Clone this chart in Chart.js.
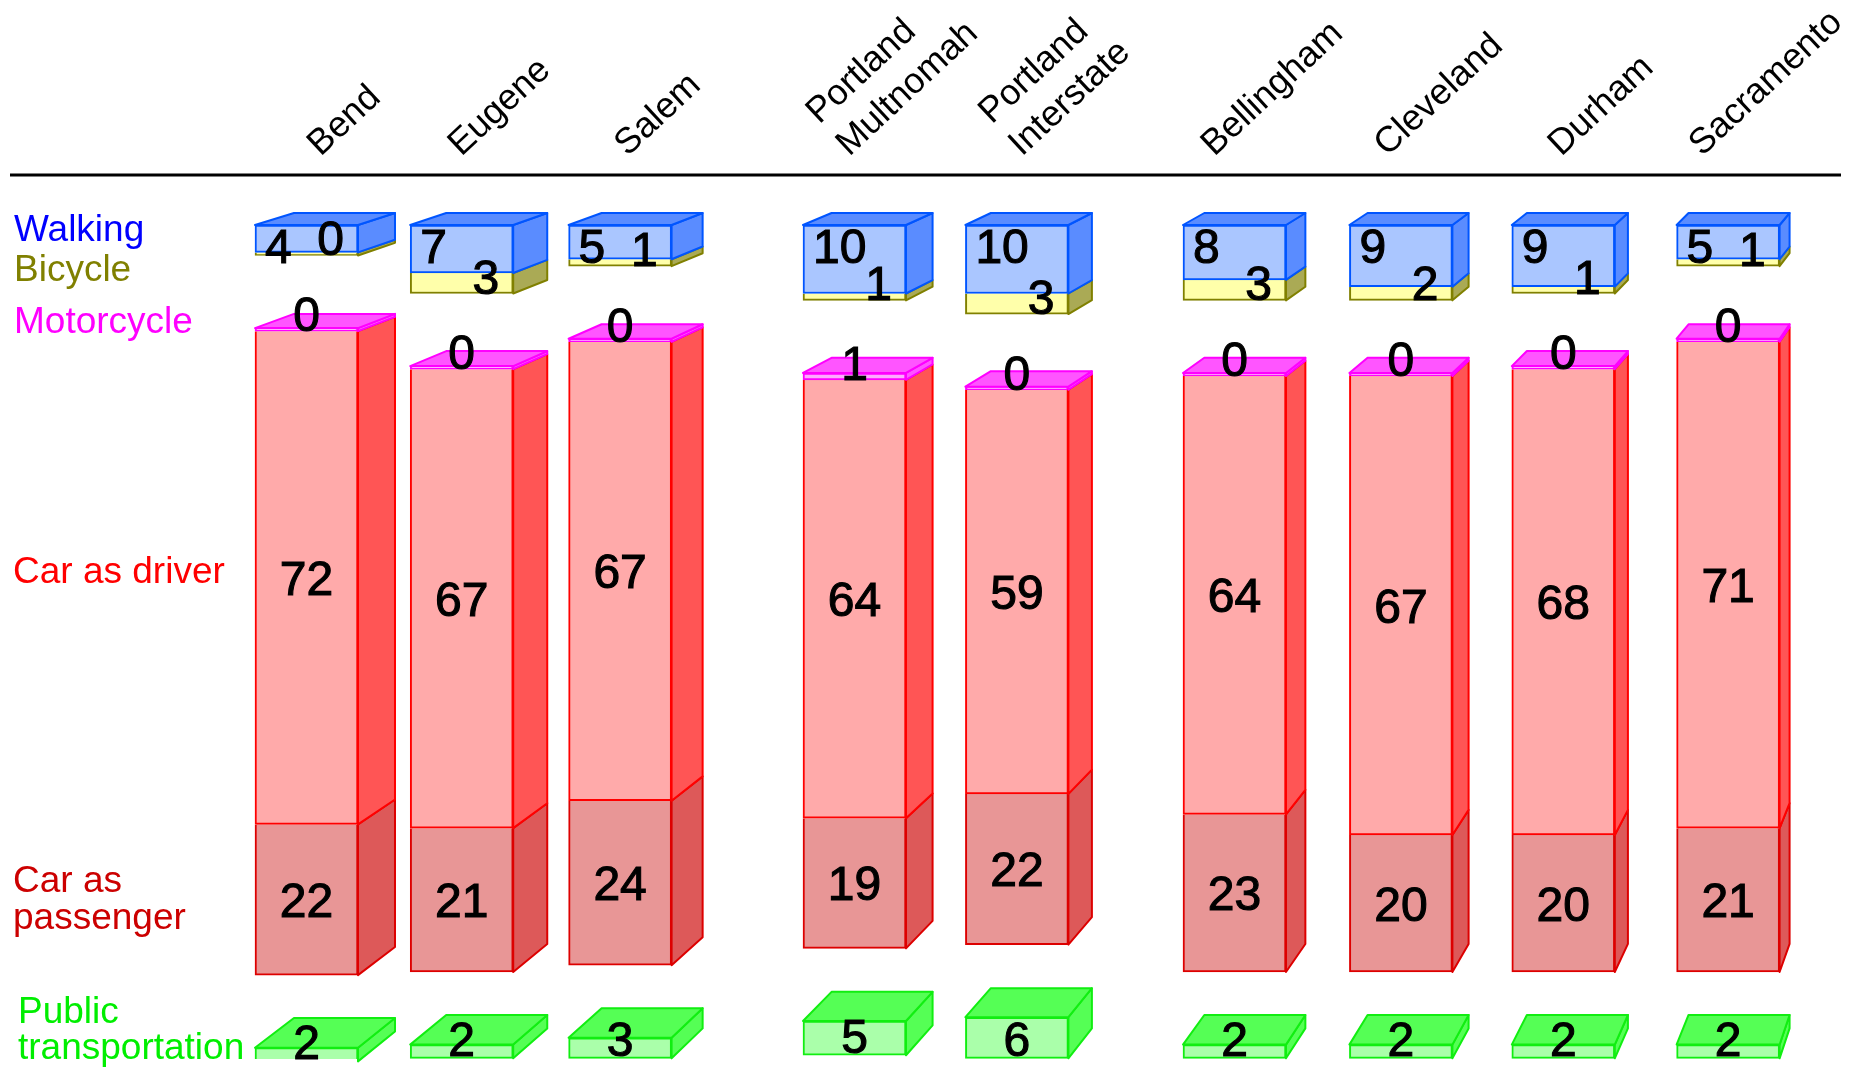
<!DOCTYPE html>
<html>
<head>
<meta charset="utf-8">
<script src="https://cdn.jsdelivr.net/npm/chart.js@4.4.1/dist/chart.umd.min.js"></script>
<style>
  html, body { margin: 0; padding: 0; background: #fff; }
  canvas { display: block; }
</style>
</head>
<body>
<canvas id="chart" width="1865" height="1067"></canvas>
<script>
const cities = [["Bend"], ["Eugene"], ["Salem"], ["Portland", "Multnomah"], ["Portland", "Interstate"], ["Bellingham"], ["Cleveland"], ["Durham"], ["Sacramento"]];

// share of trips in percent; a printed "0" still shows as a thin slab, read as ~0.45
const walking = [4, 7, 5, 10, 10, 8, 9, 9, 5];
const bicycle = [0.45, 3, 1, 1, 3, 3, 2, 1, 1];
const motorcycle = [0.45, 0.45, 0.45, 1, 0.45, 0.45, 0.45, 0.45, 0.45];
const carDriver = [72, 67, 67, 64, 59, 64, 67, 68, 71];
const carPassenger = [22, 21, 24, 19, 22, 23, 20, 20, 21];
const publicTransport = [2, 2, 3, 5, 6, 2, 2, 2, 2];

// layout: column positions (in bar steps) and the gap between the three stacks
const slots = [0, 0.97, 1.96, 3.425, 4.44, 5.8, 6.84, 7.855, 8.885];
const GAP = 10.6;

const modes = [
  { name: ["Walking"], values: walking, group: 0, cap: true, front: "#aac6ff", side: "#5a8cff", border: "#0055ff", text: "#0000ff" },
  { name: ["Bicycle"], values: bicycle, group: 0, front: "#ffffaa", side: "#aaaa55", border: "#808000", text: "#808000" },
  { name: ["Motorcycle"], values: motorcycle, group: 1, cap: true, front: "#ffaaff", side: "#ff55ff", border: "#ff00ff", text: "#ff00ff" },
  { name: ["Car as driver"], values: carDriver, group: 1, front: "#ffaaaa", side: "#ff5555", border: "#ff0000", text: "#ff0000" },
  { name: ["Car as", "passenger"], values: carPassenger, group: 1, front: "#e89696", side: "#dd5959", border: "#dd0000", text: "#cc0000" },
  { name: ["Public", "transportation"], values: publicTransport, group: 2, cap: true, front: "#aaffaa", side: "#55ff55", border: "#11ee11", text: "#00ee00" },
];

// stack each column from the top, leaving a gap between groups
const spans = modes.map(() => []);
cities.forEach((c, i) => {
  let y = 0;
  let group = 0;
  modes.forEach((m, k) => {
    if (m.group !== group) { y += GAP; group = m.group; }
    spans[k].push([y, y + m.values[i]]);
    y += m.values[i];
  });
});

// oblique depth: every corner is pulled toward a far point up to the right
const VP = { x: 2305, y: -333 };
const KX = 0.019, KY = 0.0215;
const back = (x, y) => [x + KX * (VP.x - x), y + KY * (VP.y - y)];

const rectOf = (bar) => ({
  l: bar.x - bar.width / 2,
  r: bar.x + bar.width / 2,
  t: Math.min(bar.y, bar.base),
  b: Math.max(bar.y, bar.base),
});

const face = (ctx, pts, fill, stroke) => {
  ctx.beginPath();
  ctx.moveTo(pts[0][0], pts[0][1]);
  pts.slice(1).forEach((p) => ctx.lineTo(p[0], p[1]));
  ctx.closePath();
  ctx.fillStyle = fill;
  ctx.fill();
  ctx.strokeStyle = stroke;
  ctx.stroke();
};

const boxes = {
  id: "boxes",
  afterDatasetsDraw(chart) {
    const ctx = chart.ctx;
    ctx.save();
    ctx.lineWidth = 2;
    ctx.lineJoin = "round";
    cities.forEach((c, i) => {
      // bottom segment first so the seam above it wins
      for (let k = modes.length - 1; k >= 0; k--) {
        const m = modes[k];
        const { l, r, t, b } = rectOf(chart.getDatasetMeta(k).data[i]);
        face(ctx, [[r, t], back(r, t), back(r, b), [r, b]], m.side, m.border);
        if (m.cap) {
          face(ctx, [[l, t], back(l, t), back(r, t), [r, t]], m.side, m.border);
        }
      }
    });
    ctx.restore();
  },
};

const FONT = "'Liberation Sans', Arial, sans-serif";

const number = (ctx, txt, x, y) => {
  ctx.fillText(txt, x, y);
  ctx.strokeText(txt, x, y);
};

const labels = {
  id: "labels",
  afterDraw(chart) {
    const ctx = chart.ctx;
    ctx.save();
    ctx.fillStyle = "#000";
    ctx.strokeStyle = "#000";
    ctx.lineWidth = 1.1;
    ctx.font = "48px " + FONT;
    ctx.textBaseline = "alphabetic";
    modes.forEach((m, k) => {
      chart.getDatasetMeta(k).data.forEach((bar, i) => {
        const { l, r, t, b } = rectOf(bar);
        const txt = String(Math.round(m.values[i]));
        const cx = (l + r) / 2;
        if (k === 0) {
          ctx.textAlign = "left";
          number(ctx, txt, l + 10, t + 38);
        } else if (k === 1) {
          ctx.textAlign = "right";
          number(ctx, txt, r - 14, b);
        } else if (k === 2) {
          ctx.textAlign = "center";
          number(ctx, txt, cx, b);
        } else if (k === 5) {
          ctx.textAlign = "center";
          number(ctx, txt, cx, b - 2);
        } else {
          ctx.textAlign = "center";
          number(ctx, txt, cx, (t + b) / 2 + 17);
        }
      });
    });

    // mode names on the left, lined up with the first column
    ctx.font = "37px " + FONT;
    ctx.textAlign = "left";
    const first = modes.map((m, k) => rectOf(chart.getDatasetMeta(k).data[0]));
    const rows = [
      [first[0].t + 16],
      [first[0].t + 56],
      [first[2].b + 2],
      [(first[3].t + first[3].b) / 2 + 5],
      [(first[4].t + first[4].b) / 2 - 8, (first[4].t + first[4].b) / 2 + 29],
      [first[5].b - 38, first[5].b - 2],
    ];
    const xs = [14, 14, 14, 13, 13, 18];
    modes.forEach((m, k) => {
      ctx.fillStyle = m.text;
      m.name.forEach((line, j) => ctx.fillText(line, xs[k], rows[k][j]));
    });

    // header: rule and slanted city names
    ctx.strokeStyle = "#000";
    ctx.lineWidth = 3;
    ctx.beginPath();
    ctx.moveTo(10, 175);
    ctx.lineTo(1841, 175);
    ctx.stroke();

    const size = 36;
    const ang = 43 * Math.PI / 180;
    const sin = Math.sin(ang), cos = Math.cos(ang);
    const lh = 44;
    const cap = 0.72 * size;
    ctx.font = size + "px " + FONT;
    ctx.fillStyle = "#000";
    const xScale = chart.scales.x;
    cities.forEach((lines, i) => {
      const cx = xScale.getPixelForValue(slots[i]);
      const n = lines.length;
      let minX = Infinity, maxX = -Infinity;
      const offs = lines.map((line, j) => {
        const dx = -(n - 1 - j) * lh * sin;
        const dy = -(n - 1 - j) * lh * cos;
        const w = ctx.measureText(line).width;
        minX = Math.min(minX, dx - cap * sin);
        maxX = Math.max(maxX, dx + w * cos);
        return [dx, dy];
      });
      const x0 = cx + 36 - (minX + maxX) / 2;
      const y0 = 157;
      lines.forEach((line, j) => {
        ctx.save();
        ctx.translate(x0 + offs[j][0], y0 + offs[j][1]);
        ctx.rotate(-ang);
        ctx.textAlign = "left";
        ctx.fillText(line, 0, 0);
        ctx.restore();
      });
    });
    ctx.restore();
  },
};

new Chart(document.getElementById("chart"), {
  type: "bar",
  data: {
    datasets: modes.map((m, k) => ({
      label: m.name.join(" "),
      data: slots.map((s, i) => ({ x: s, y: spans[k][i] })),
      backgroundColor: m.front,
      borderColor: m.border,
      borderWidth: 2,
      borderSkipped: m.cap ? false : "start",
      barThickness: 103,
      grouped: false,
    })),
  },
  options: {
    responsive: false,
    animation: false,
    events: [],
    layout: { padding: { top: 225, bottom: 8, left: 66.5, right: 38.5 } },
    plugins: { legend: { display: false }, tooltip: { enabled: false } },
    scales: {
      x: { type: "linear", min: -1.5, max: 9.5, display: false, offset: false },
      y: { type: "linear", min: 0, max: 121.75, reverse: true, display: false },
    },
  },
  plugins: [boxes, labels],
});
</script>
</body>
</html>
